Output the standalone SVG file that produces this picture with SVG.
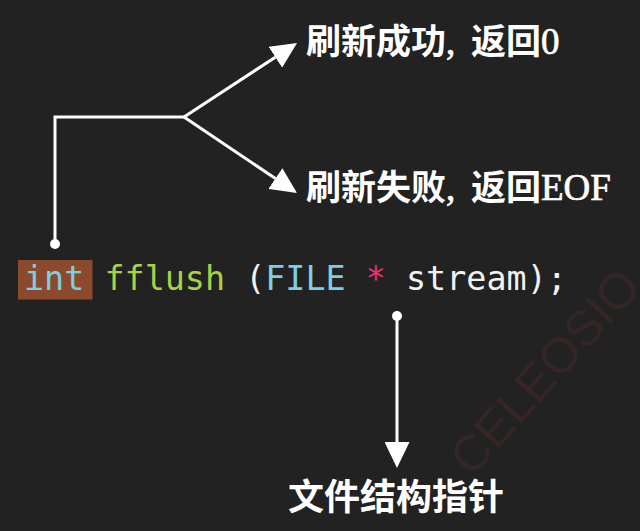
<svg xmlns="http://www.w3.org/2000/svg" width="640" height="531" viewBox="0 0 640 531">
  <style>
    .code { font-family: "DejaVu Sans Mono", monospace; font-size: 33.4px; fill: #f2f2f2; }
    .kw { fill: #7ccfe3; }
    .fn { fill: #a6d243; }
    .op { fill: #e8336f; }
    .lbl { font-family: "Noto Sans CJK SC", sans-serif; font-size: 35px; font-weight: 700; fill: #ffffff; }
    .lat { font-family: "Liberation Serif", serif; font-size: 37px; font-weight: 400; stroke: #ffffff; stroke-width: 0.7px; }
    .lbl2 { font-family: "Noto Sans CJK SC", sans-serif; font-size: 36px; font-weight: 700; fill: #ffffff; }
    .wire { stroke: #ffffff; stroke-width: 3; fill: none; }
    .dot { fill: #ffffff; }
    .wm { font-family: "Liberation Sans", sans-serif; font-size: 50px; fill: #352525; }
  </style>
  <defs>
    <marker id="ah" markerUnits="userSpaceOnUse" markerWidth="26" markerHeight="25" viewBox="0 0 26 25" refX="0" refY="12.5" orient="auto">
      <path d="M0,0 L26,12.5 L0,25 Z" fill="#ffffff"/>
    </marker>
  </defs>
  <rect x="0" y="0" width="640" height="531" fill="#222222"/>

  <text class="wm" x="472" y="478" transform="rotate(-48 472 478)">CELEOSIO</text>

  <g id="code">
    <rect x="18" y="260" width="74.5" height="39.5" fill="#8a4a2b"/>
    <text class="code" x="24" y="290"><tspan class="kw">int</tspan> <tspan class="fn">fflush</tspan> (<tspan class="kw">FILE</tspan> <tspan class="op">*</tspan> stream);</text>
  </g>

  <g id="label-success">
    <text class="lbl" x="306" y="54">刷新成功<tspan class="lat">,</tspan><tspan x="471">返回</tspan><tspan class="lat">0</tspan></text>
  </g>
  <g id="label-fail">
    <text class="lbl" x="306" y="200">刷新失败<tspan class="lat">,</tspan><tspan x="471">返回</tspan><tspan class="lat">EOF</tspan></text>
  </g>
  <g id="label-stream">
    <text class="lbl2" x="396" y="510" text-anchor="middle">文件结构指针</text>
  </g>

  <g id="connectors">
    <path class="wire" d="M55,244 V117 H184"/>
    <line class="wire" x1="184" y1="117" x2="275.3" y2="57.2" marker-end="url(#ah)"/>
    <line class="wire" x1="184" y1="117" x2="275.4" y2="178.5" marker-end="url(#ah)"/>
    <line class="wire" x1="397" y1="316" x2="397" y2="442" marker-end="url(#ah)"/>
    <circle class="dot" cx="55" cy="244" r="5"/>
    <circle class="dot" cx="397" cy="316" r="5"/>
  </g>
</svg>
